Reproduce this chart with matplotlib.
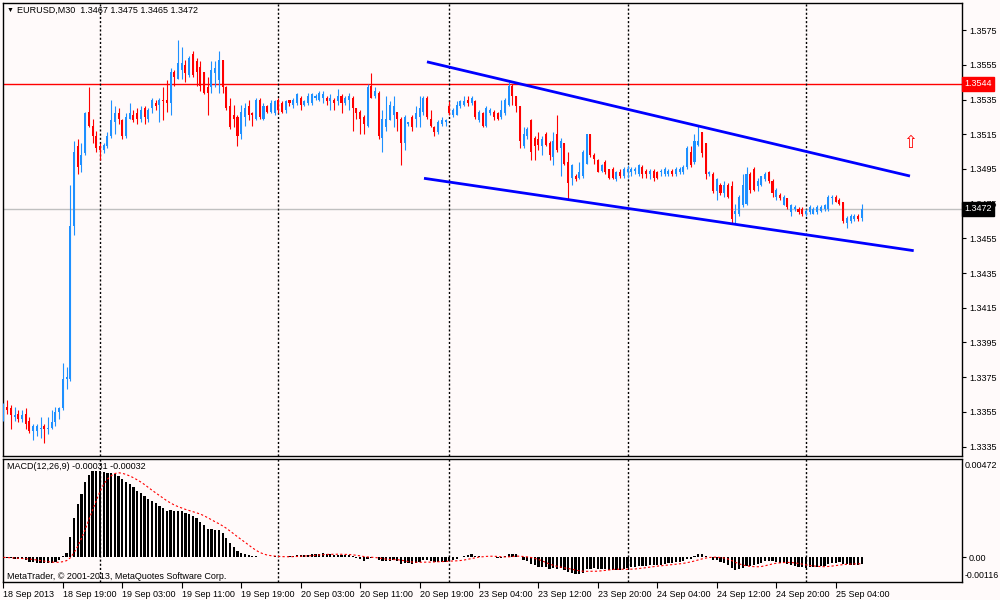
import numpy as np
import matplotlib
matplotlib.use('Agg')
import matplotlib.pyplot as plt

# EURUSD M30 bars, 18 Sep 2013 11:00 .. 25 Sep 2013 07:30
# prices kept as pips above 1.3300
base = 1.33
opens = [
    52, 58, 57, 52, 54, 51, 54, 50, 44, 44,
    45, 47, 45, 46, 49, 55, 57, 74, 74, 162,
    208, 197, 204, 228, 220, 214, 208, 206, 208, 214,
    222, 227, 223, 214, 224, 226, 227, 224, 230, 224,
    230, 233, 232, 235, 235, 233, 251, 247, 252, 255,
    249, 261, 257, 254, 251, 242, 242, 250, 246, 258,
    242, 231, 226, 225, 215, 225, 231, 227, 224, 235,
    224, 231, 228, 227, 235, 233, 229, 235, 232, 233,
    236, 232, 233, 233, 236, 235, 236, 236, 234, 235,
    234, 237, 233, 235, 236, 230, 228, 225, 220, 243,
    237, 239, 213, 219, 223, 226, 228, 224, 210, 221,
    225, 224, 225, 228, 236, 224, 219, 216, 221, 222,
    231, 226, 226, 231, 232, 235, 233, 234, 223, 227,
    220, 227, 228, 227, 225, 227, 232, 243, 237, 231,
    208, 214, 223, 213, 212, 208, 215, 210, 202, 215,
    207, 210, 199, 190, 191, 190, 191, 198, 215, 203,
    200, 194, 199, 195, 195, 189, 193, 191, 193, 193,
    194, 192, 196, 194, 192, 194, 193, 193, 192, 192,
    194, 192, 193, 193, 196, 205, 199, 209, 216, 210,
    192, 192, 182, 186, 181, 186, 185, 169, 169, 174,
    175, 192, 195, 185, 186, 189, 193, 188, 179, 180,
    174, 178, 170, 172, 172, 172, 169, 170, 169, 170,
    171, 172, 172, 178, 179, 177, 176, 164, 165, 166,
    168, 167,
]
highs = [
    60, 62, 59, 58, 56, 56, 57, 52, 48, 48,
    52, 48, 52, 56, 58, 58, 83, 81, 186, 211,
    212, 210, 228, 242, 224, 217, 210, 210, 216, 235,
    231, 230, 224, 227, 233, 229, 230, 231, 231, 230,
    236, 235, 236, 242, 246, 253, 252, 269, 265, 258,
    260, 263, 259, 257, 251, 248, 257, 257, 263, 258,
    243, 236, 232, 226, 232, 233, 235, 228, 236, 236,
    233, 232, 235, 235, 236, 234, 235, 235, 236, 239,
    237, 235, 239, 239, 238, 240, 240, 237, 238, 236,
    241, 238, 237, 239, 237, 230, 229, 226, 244, 250,
    242, 240, 229, 237, 234, 237, 228, 225, 226, 222,
    226, 231, 237, 237, 237, 229, 220, 223, 225, 224,
    234, 230, 234, 235, 237, 237, 237, 235, 229, 228,
    231, 230, 229, 228, 235, 236, 245, 244, 237, 231,
    219, 219, 224, 214, 216, 214, 216, 211, 216, 226,
    213, 210, 205, 198, 192, 199, 206, 215, 215, 204,
    201, 198, 200, 195, 196, 194, 195, 196, 197, 196,
    196, 198, 197, 195, 195, 195, 194, 195, 196, 195,
    195, 196, 196, 197, 208, 208, 215, 220, 216, 210,
    194, 193, 190, 187, 188, 187, 188, 175, 180, 192,
    196, 193, 196, 190, 191, 193, 194, 189, 184, 181,
    180, 178, 175, 174, 173, 173, 172, 174, 173, 174,
    174, 175, 180, 180, 180, 178, 176, 168, 169, 169,
    169, 175,
]
lows = [
    50, 54, 45, 50, 49, 49, 45, 43, 39, 41,
    40, 37, 42, 45, 47, 51, 56, 68, 73, 157,
    192, 193, 203, 219, 210, 205, 200, 204, 207, 213,
    215, 221, 212, 213, 224, 222, 221, 222, 221, 222,
    227, 229, 222, 223, 228, 226, 243, 247, 247, 245,
    248, 248, 243, 240, 238, 226, 239, 242, 239, 239,
    229, 218, 219, 208, 212, 220, 223, 220, 223, 224,
    223, 227, 227, 226, 227, 227, 227, 231, 230, 232,
    229, 231, 232, 232, 235, 234, 233, 232, 229, 229,
    232, 227, 232, 229, 217, 224, 215, 215, 219, 236,
    236, 212, 205, 217, 223, 219, 217, 197, 206, 220,
    217, 219, 219, 226, 224, 219, 214, 215, 220, 220,
    226, 225, 226, 230, 231, 231, 232, 224, 222, 219,
    219, 226, 223, 223, 224, 226, 231, 232, 228, 207,
    207, 212, 200, 200, 206, 203, 208, 200, 197, 205,
    191, 197, 177, 186, 188, 189, 190, 198, 202, 198,
    193, 193, 192, 189, 189, 188, 190, 190, 190, 191,
    192, 191, 190, 190, 189, 188, 189, 191, 191, 191,
    191, 191, 192, 192, 195, 196, 198, 208, 202, 189,
    191, 181, 177, 180, 179, 178, 163, 164, 168, 173,
    174, 181, 182, 182, 185, 188, 187, 179, 177, 177,
    174, 172, 168, 171, 169, 168, 168, 169, 169, 169,
    170, 171, 171, 175, 176, 174, 164, 161, 164, 165,
    165, 165,
]
closes = [
    57, 56, 53, 53, 51, 53, 48, 44, 47, 47,
    46, 45, 46, 49, 55, 57, 74, 75, 162, 205,
    196, 203, 227, 220, 214, 207, 206, 209, 214, 223,
    227, 224, 214, 225, 227, 223, 224, 229, 225, 229,
    235, 231, 235, 234, 233, 251, 248, 256, 256, 250,
    259, 249, 251, 243, 239, 239, 252, 253, 258, 242,
    230, 219, 224, 214, 228, 230, 226, 226, 235, 225,
    231, 228, 233, 234, 229, 228, 234, 233, 235, 238,
    232, 234, 237, 238, 237, 239, 238, 234, 236, 233,
    237, 233, 236, 237, 230, 227, 224, 221, 242, 236,
    240, 214, 224, 224, 232, 231, 224, 210, 225, 222,
    219, 227, 230, 236, 225, 220, 216, 222, 223, 223,
    227, 229, 232, 234, 234, 233, 236, 225, 228, 220,
    230, 229, 225, 224, 229, 235, 243, 237, 231, 211,
    215, 218, 205, 208, 209, 212, 209, 203, 211, 206,
    211, 198, 187, 197, 189, 193, 205, 215, 203, 201,
    193, 197, 193, 190, 190, 193, 191, 195, 195, 195,
    195, 197, 192, 192, 194, 190, 190, 194, 195, 194,
    192, 195, 195, 196, 207, 197, 211, 211, 204, 192,
    193, 182, 189, 181, 186, 179, 166, 171, 179, 186,
    192, 183, 183, 188, 191, 192, 188, 181, 183, 178,
    179, 173, 174, 173, 170, 169, 171, 173, 172, 173,
    173, 174, 179, 179, 176, 175, 165, 167, 168, 168,
    166, 172,
]

price_ticks = [1.3335, 1.3355, 1.3375, 1.3395, 1.3415, 1.3435, 1.3455,
               1.3475, 1.3495, 1.3515, 1.3535, 1.3555, 1.3575]
time_ticks = [0, 16, 32, 48, 64, 80, 96, 112, 128, 144, 160, 176, 192, 208, 224]
time_labels = ['18 Sep 2013', '18 Sep 19:00', '19 Sep 03:00', '19 Sep 11:00',
               '19 Sep 19:00', '20 Sep 03:00', '20 Sep 11:00', '20 Sep 19:00',
               '23 Sep 04:00', '23 Sep 12:00', '23 Sep 20:00', '24 Sep 04:00',
               '24 Sep 12:00', '24 Sep 20:00', '25 Sep 04:00']
day_breaks = [26, 74, 120, 168, 216]

level_red = 1.3544
last_price = 1.3472

# channel lines (bar index, price)
upper_x = [114, 244]
upper_y = [1.35567, 1.34909]
lower_x = [113.2, 245]
lower_y = [1.34896, 1.34479]
arrow_x, arrow_y = 244, 1.35099

macd_max, macd_min = 0.00472, -0.00116

bg = '#fffafa'
blue = '#1e90ff'
red = '#ff0000'

plt.rcParams['font.family'] = ['Liberation Sans', 'DejaVu Sans']
plt.rcParams['font.size'] = 6.5

o = base + np.array(opens) / 1e4
h = base + np.array(highs) / 1e4
l = base + np.array(lows) / 1e4
c = base + np.array(closes) / 1e4
idx = np.arange(len(c))
colors = np.where(c >= o, blue, red)

fig = plt.figure(figsize=(10, 6), dpi=100, facecolor=bg)
ax = fig.add_axes([0.003, 0.24, 0.959, 0.755], facecolor=bg)
axm = fig.add_axes([0.003, 0.03, 0.959, 0.205], facecolor=bg, sharex=ax)

xlim = (-0.11, 258.0)

# --- price panel ---
ax.axhline(level_red, color=red, lw=1, zorder=1)
ax.axhline(last_price, color='#c0c0c0', lw=1, zorder=1)
for d in day_breaks:
    ax.axvline(d, color='black', lw=1, ls=(0, (1.5, 1.5)), zorder=1)

ax.vlines(idx, l, h, colors=colors, lw=0.8, zorder=3)
body = np.maximum(np.abs(c - o), 0.00006)
ax.bar(idx, body, bottom=np.minimum(o, c), width=0.55, color=colors, lw=0, zorder=4)

ax.plot(upper_x, upper_y, color='#0000ff', lw=2, zorder=5, solid_capstyle='butt')
ax.plot(lower_x, lower_y, color='#0000ff', lw=2, zorder=5, solid_capstyle='butt')
ax.text(arrow_x, arrow_y, '\u21e7', color=red, fontsize=12, ha='center', va='center',
        family=['DejaVu Sans'], zorder=6)

ax.set_xlim(*xlim)
ax.set_ylim(1.33296, 1.35906)
ax.yaxis.tick_right()
ax.set_yticks(price_ticks)
ax.set_yticklabels(['%.4f' % p for p in price_ticks])
ax.tick_params(axis='y', direction='out', length=3, width=0.8, pad=2, labelsize=6.5)
ax.tick_params(axis='x', bottom=False, labelbottom=False)
for s in ax.spines.values():
    s.set_color('black')
    s.set_linewidth(1)

tr = ax.get_yaxis_transform()
ax.text(1.002, level_red, '1.3544', transform=tr, color='white', fontsize=6.5,
        ha='left', va='center', zorder=10, clip_on=False,
        bbox=dict(boxstyle='square,pad=0.25', fc=red, ec=red))
ax.text(1.002, last_price, '1.3472', transform=tr, color='white', fontsize=6.5,
        ha='left', va='center', zorder=10, clip_on=False,
        bbox=dict(boxstyle='square,pad=0.25', fc='black', ec='black'))

fig.text(0.007, 1 - 10 / 600, '\u25bc', fontsize=5, va='center', ha='left')
fig.text(0.017, 1 - 10 / 600, 'EURUSD,M30  1.3467 1.3475 1.3465 1.3472',
         fontsize=6.5, va='center', ha='left')


# --- MACD panel ---
def ema(vals, n):
    k = 2.0 / (n + 1)
    out = [vals[0]]
    for v in vals[1:]:
        out.append(out[-1] + k * (v - out[-1]))
    return np.array(out)


macd = ema(c, 12) - ema(c, 26)
signal = np.array([macd[max(0, i - 8):i + 1].mean() for i in range(len(macd))])

for d in day_breaks:
    axm.axvline(d, color='black', lw=1, ls=(0, (1.5, 1.5)), zorder=1)
axm.bar(idx, macd, width=0.6, color='black', lw=0, zorder=3)
axm.plot(idx, signal, color=red, lw=0.8, ls=(0, (2, 2)), zorder=4)

axm.set_xlim(*xlim)
axm.set_ylim(-0.00124, 0.00497)
axm.yaxis.tick_right()
axm.set_yticks([0.0])
axm.set_yticklabels(['0.00'])
axm.tick_params(axis='y', direction='out', length=3, width=0.8, pad=2, labelsize=6.5)
ytr = axm.get_yaxis_transform()
axm.text(1.003, 0.985, '%.5f' % macd_max, transform=axm.transAxes, fontsize=6.5,
         ha='left', va='top', clip_on=False)
axm.text(1.003, 0.02, '%.5f' % macd_min, transform=axm.transAxes, fontsize=6.3,
         ha='left', va='bottom', clip_on=False)
axm.set_xticks(time_ticks)
axm.set_xticklabels(time_labels)
axm.tick_params(axis='x', direction='out', length=4, width=0.8, pad=2, labelsize=6.5)
for lbl in axm.get_xticklabels():
    lbl.set_ha('left')
for s in axm.spines.values():
    s.set_color('black')
    s.set_linewidth(1)

axm.text(0.004, 0.94, 'MACD(12,26,9) -0.00031 -0.00032', transform=axm.transAxes,
         fontsize=6.5, va='center', ha='left', zorder=6)
axm.text(0.004, 0.045, 'MetaTrader, \u00a9 2001-2013, MetaQuotes Software Corp.',
         transform=axm.transAxes, fontsize=6.5, va='center', ha='left', zorder=6)

fig.savefig('out.png', dpi=100, facecolor=bg)
